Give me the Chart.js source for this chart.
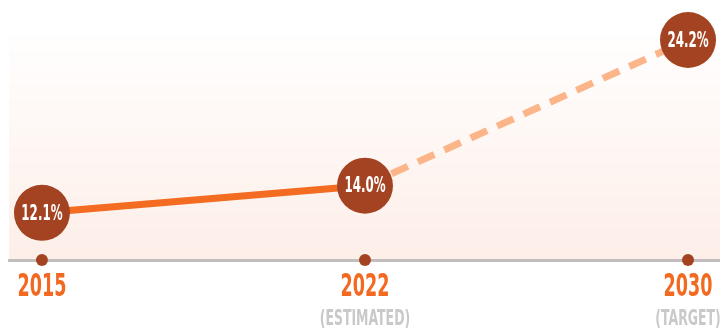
<!DOCTYPE html>
<html lang="en">
<head>
    <meta charset="UTF-8">
    <title>Share 2015 - 2030</title>
    <script src="https://cdn.jsdelivr.net/npm/chart.js"></script>
    <style>
        body {
            margin: 0;
            background-color: #ffffff;
        }
        .wrap {
            width: 720px;
            height: 331px;
        }
    </style>
</head>
<body>
<div class="wrap">
    <canvas id="chart1"></canvas>
</div>
<script>
    const years = ['2015', '2022', '2030'];
    const notes = ['', '(ESTIMATED)', '(TARGET)'];
    const shares = [12.1, 14.0, 24.2];

    const condensed = "'DejaVu Sans Condensed', 'Liberation Sans Narrow', sans-serif";
    const yMin = 8.8;
    const yMax = 27.0;

    // squeezed text, the original uses a narrow display face
    function narrowText(ctx, text, x, y, font, color, squeeze) {
        ctx.save();
        ctx.font = font;
        ctx.fillStyle = color;
        ctx.textAlign = 'center';
        ctx.textBaseline = 'middle';
        ctx.translate(x, y);
        ctx.scale(squeeze, 1);
        ctx.fillText(text, 0, 0);
        ctx.restore();
    }

    // soft pink fade behind the plot
    const backdrop = {
        id: 'backdrop',
        beforeDraw(chart) {
            const { ctx, chartArea } = chart;
            const g = ctx.createLinearGradient(0, chartArea.top + 20, 0, chartArea.bottom);
            g.addColorStop(0, 'rgba(253, 240, 234, 0)');
            g.addColorStop(1, 'rgba(253, 238, 232, 1)');
            ctx.save();
            ctx.fillStyle = g;
            ctx.fillRect(chartArea.left, chartArea.top, chartArea.right - chartArea.left, chartArea.bottom - chartArea.top);
            ctx.restore();
        }
    };

    // value text inside the big circles
    const bubbleText = {
        id: 'bubbleText',
        afterDatasetsDraw(chart) {
            const meta = chart.getDatasetMeta(0);
            meta.data.forEach((pt, i) => {
                narrowText(chart.ctx, shares[i].toFixed(1) + '%', pt.x, pt.y + 1,
                    'bold 22px ' + condensed, '#ffffff', 0.6);
            });
        }
    };

    // year + note under each tick of the x axis
    const tickText = {
        id: 'tickText',
        afterDraw(chart) {
            const xs = chart.scales.x;
            xs.ticks.forEach((t, i) => {
                const px = xs.getPixelForValue(t.value);
                narrowText(chart.ctx, years[i], px, xs.top + 28, 'bold 32px ' + condensed, '#f26a21', 0.61);
                if (notes[i]) {
                    narrowText(chart.ctx, notes[i], px, xs.top + 60, 'bold 21px ' + condensed, '#c9c9c9', 0.66);
                }
            });
        }
    };

    const pointData = shares.map((v, i) => ({ x: i, y: v }));
    const baseDots = shares.map((v, i) => ({ x: i, y: yMin }));

    new Chart(document.getElementById('chart1'), {
        type: 'line',
        data: {
            datasets: [{
                data: pointData,
                borderWidth: 7,
                borderColor: '#f36c21',
                pointRadius: 28,
                pointHoverRadius: 28,
                pointBorderWidth: 0,
                pointBackgroundColor: '#a34322',
                segment: {
                    borderColor: c => c.p0DataIndex >= 1 ? '#fbb588' : '#f36c21',
                    borderDash: c => c.p0DataIndex >= 1 ? [18, 11] : undefined
                },
                clip: false
            }, {
                data: baseDots,
                showLine: false,
                pointRadius: 6,
                pointHoverRadius: 6,
                pointBorderWidth: 0,
                pointBackgroundColor: '#a34322',
                clip: false
            }]
        },
        options: {
            responsive: true,
            maintainAspectRatio: false,
            animation: false,
            layout: { autoPadding: false, padding: { left: 9, right: 0, top: 0, bottom: 0 } },
            plugins: {
                legend: { display: false },
                tooltip: { enabled: false }
            },
            scales: {
                y: {
                    type: 'linear',
                    display: false,
                    min: yMin,
                    max: yMax
                },
                x: {
                    type: 'linear',
                    position: 'bottom',
                    min: -0.102,
                    max: 2.099,
                    afterBuildTicks: axis => { axis.ticks = years.map((y, i) => ({ value: i })); },
                    afterFit: axis => { axis.height = 71; axis.paddingLeft = 0; axis.paddingRight = 0; },
                    grid: { display: false, drawTicks: false },
                    border: { display: true, color: '#c2bebd', width: 3 },
                    ticks: { display: false }
                }
            }
        },
        plugins: [backdrop, bubbleText, tickText]
    });
</script>
</body>
</html>
